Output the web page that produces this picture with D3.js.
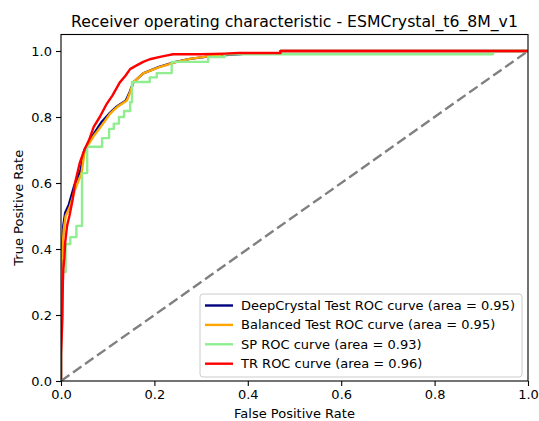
<!DOCTYPE html>
<html>
<head>
<meta charset="utf-8">
<script src="https://cdn.jsdelivr.net/npm/d3@7"></script>
<style>
  body { margin: 0; background: #fff; }
  svg { font-family: "DejaVu Sans", sans-serif; }
</style>
</head>
<body>
<svg id="chart" width="539" height="421"></svg>
<script>
// ROC curve points
const navyFpr = [0, 0, 0.003, 0.005, 0.009, 0.017, 0.028, 0.042, 0.05, 0.066, 0.087, 0.103, 0.118, 0.139, 0.147, 0.155, 0.176, 0.21, 0.246, 0.276, 0.33, 0.38, 0.40, 0.47, 0.47, 1.0];
const navyTpr = [0, 0.33, 0.41, 0.47, 0.51, 0.535, 0.59, 0.64, 0.7, 0.74, 0.785, 0.81, 0.83, 0.85, 0.875, 0.905, 0.932, 0.952, 0.967, 0.976, 0.986, 0.99, 0.993, 0.994, 1.0, 1.0];

const orangeFpr = [0, 0, 0.003, 0.006, 0.01, 0.019, 0.03, 0.044, 0.051, 0.069, 0.09, 0.105, 0.12, 0.141, 0.148, 0.155, 0.176, 0.212, 0.248, 0.276, 0.326, 0.35, 0.40, 0.47, 0.47, 1.0];
const orangeTpr = [0, 0.33, 0.4, 0.46, 0.5, 0.528, 0.58, 0.63, 0.7, 0.74, 0.78, 0.81, 0.83, 0.85, 0.875, 0.905, 0.932, 0.952, 0.967, 0.976, 0.986, 0.99, 0.993, 0.994, 1.0, 1.0];

const greenFpr = [0, 0, 0.01, 0.01, 0.02, 0.02, 0.033, 0.033, 0.045, 0.045, 0.056, 0.056, 0.088, 0.088, 0.103, 0.103, 0.113, 0.113, 0.124, 0.124, 0.135, 0.135, 0.148, 0.148, 0.152, 0.152, 0.19, 0.19, 0.205, 0.205, 0.237, 0.237, 0.315, 0.315, 0.35, 0.35, 0.925, 0.925, 1.0];
const greenTpr = [0, 0.33, 0.33, 0.415, 0.415, 0.436, 0.436, 0.47, 0.47, 0.63, 0.63, 0.71, 0.71, 0.736, 0.736, 0.764, 0.764, 0.78, 0.78, 0.8, 0.8, 0.818, 0.818, 0.845, 0.845, 0.906, 0.906, 0.92, 0.92, 0.933, 0.933, 0.967, 0.967, 0.982, 0.982, 0.99, 0.99, 1.0, 1.0];

const redFpr = [0, 0, 0.003, 0.004, 0.005, 0.007, 0.009, 0.013, 0.018, 0.025, 0.03, 0.04, 0.05, 0.06, 0.07, 0.083, 0.098, 0.11, 0.116, 0.126, 0.138, 0.148, 0.16, 0.176, 0.19, 0.212, 0.225, 0.24, 0.3, 0.35, 0.38, 0.47, 0.47, 1.0];
const redTpr = [0, 0.08, 0.19, 0.3, 0.34, 0.37, 0.42, 0.47, 0.5, 0.55, 0.6, 0.66, 0.7, 0.73, 0.77, 0.8, 0.84, 0.865, 0.88, 0.905, 0.925, 0.945, 0.955, 0.967, 0.975, 0.982, 0.986, 0.99, 0.99, 0.992, 0.994, 0.994, 1.0, 1.0];

const seriesNames = [
  "DeepCrystal Test ROC curve (area = 0.95)",
  "Balanced Test ROC curve (area = 0.95)",
  "SP ROC curve (area = 0.93)",
  "TR ROC curve (area = 0.96)"
];
const seriesColors = ["navy", "orange", "lightgreen", "red"];
const tickValues = [0, 0.2, 0.4, 0.6, 0.8, 1.0];

const margin = {left: 61, right: 11, top: 34.5, bottom: 40};
const width = 539, height = 421;
const innerW = width - margin.left - margin.right;
const innerH = height - margin.top - margin.bottom;

const svg = d3.select('#chart');

const x = d3.scaleLinear().domain([0, 1]).range([0, innerW]);
const y = d3.scaleLinear().domain([0, 1.05]).range([innerH, 0]);

const g = svg.append('g').attr('transform', `translate(${margin.left},${margin.top})`);

svg.append('defs').append('clipPath').attr('id', 'plotclip')
  .append('rect').attr('width', innerW).attr('height', innerH);

// zip the arrays into point lists
const series = [
  {fpr: navyFpr, tpr: navyTpr},
  {fpr: orangeFpr, tpr: orangeTpr},
  {fpr: greenFpr, tpr: greenTpr},
  {fpr: redFpr, tpr: redTpr}
].map((s, i) => ({
  name: seriesNames[i],
  color: seriesColors[i],
  points: s.fpr.map((f, j) => [f, s.tpr[j]])
}));

const line = d3.line().x(d => x(d[0])).y(d => y(d[1]));
const plot = g.append('g').attr('clip-path', 'url(#plotclip)');

series.forEach(s => {
  plot.append('path')
    .datum(s.points)
    .attr('fill', 'none')
    .attr('stroke', s.color)
    .attr('stroke-width', 2.4)
    .attr('stroke-linejoin', 'round')
    .attr('d', line);
});

// chance line
plot.append('path')
  .datum([[0, 0], [1, 1]])
  .attr('fill', 'none')
  .attr('stroke', 'grey')
  .attr('stroke-width', 2.4)
  .attr('stroke-dasharray', '10.3,4.4')
  .attr('d', line);

// axes
const xAxis = d3.axisBottom(x).tickValues(tickValues).tickFormat(d3.format('.1f')).tickSize(5).tickPadding(4);
const yAxis = d3.axisLeft(y).tickValues(tickValues).tickFormat(d3.format('.1f')).tickSize(5).tickPadding(4);

g.append('g').attr('class', 'x axis').attr('transform', `translate(0,${innerH})`).call(xAxis);
g.append('g').attr('class', 'y axis').call(yAxis);
g.selectAll('.axis .domain').remove();
g.selectAll('.axis text').attr('font-size', 13).attr('fill', '#000').attr('font-family', 'DejaVu Sans');
g.selectAll('.axis line').attr('stroke', '#000').attr('stroke-width', 1.1);

g.append('rect')
  .attr('width', innerW).attr('height', innerH)
  .attr('fill', 'none').attr('stroke', '#000').attr('stroke-width', 1.1);

// titles
svg.append('text')
  .attr('x', margin.left + innerW / 2).attr('y', 27)
  .attr('text-anchor', 'middle').attr('font-size', 15.7)
  .text('Receiver operating characteristic - ESMCrystal_t6_8M_v1');

svg.append('text')
  .attr('x', margin.left + innerW / 2).attr('y', 418)
  .attr('text-anchor', 'middle').attr('font-size', 13)
  .text('False Positive Rate');

svg.append('text')
  .attr('transform', `translate(23,${margin.top + innerH / 2}) rotate(-90)`)
  .attr('text-anchor', 'middle').attr('font-size', 13)
  .text('True Positive Rate');

// legend
const legend = svg.append('g').attr('transform', 'translate(200,294)');
legend.append('rect')
  .attr('width', 322).attr('height', 83).attr('rx', 3)
  .attr('fill', '#fff').attr('fill-opacity', 0.8)
  .attr('stroke', '#cccccc').attr('stroke-width', 1);

const item = legend.selectAll('.item').data(series).join('g')
  .attr('class', 'item')
  .attr('transform', (d, i) => `translate(0,${11.5 + i * 19.4})`);
item.append('line')
  .attr('x1', 5).attr('x2', 33)
  .attr('stroke', d => d.color).attr('stroke-width', 2.4);
item.append('text')
  .attr('x', 41).attr('dy', '0.35em')
  .attr('font-size', 13)
  .text(d => d.name);
</script>
</body>
</html>
